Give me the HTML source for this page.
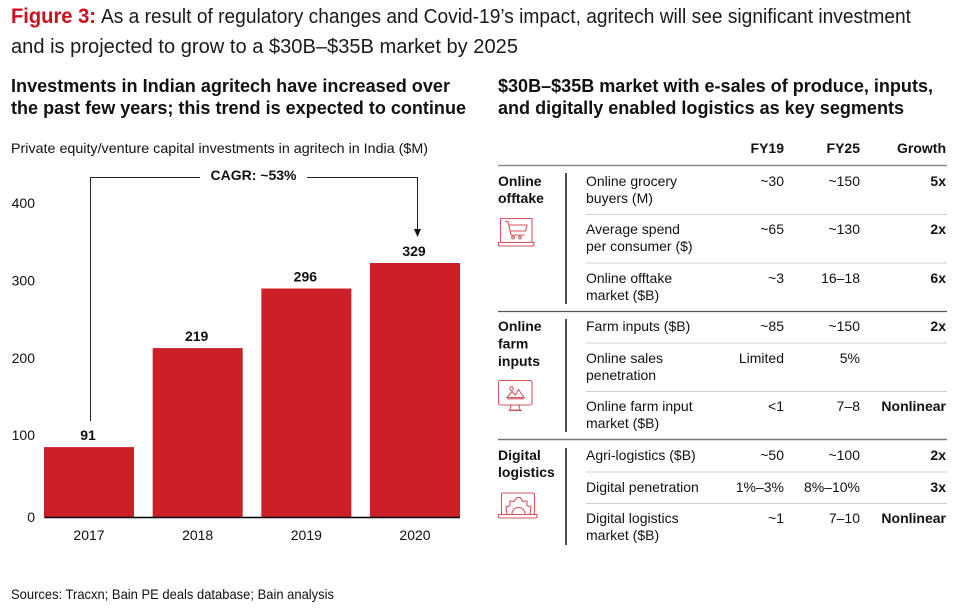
<!DOCTYPE html>
<html lang="en">
<head>
<meta charset="utf-8">
<title>Figure 3: Agritech investment in India</title>
<style>
html,body{margin:0;padding:0;background:#fff;width:964px;height:612px;overflow:hidden}
svg{display:block;font-family:"Liberation Sans",Arial,sans-serif;fill:#111}
.h{font-weight:700;font-size:18px}
.t{font-size:14px}
.b{font-size:14px;font-weight:700}
.r{text-anchor:end}
.m{text-anchor:middle}
.ic{fill:none;stroke:#d5545c;stroke-width:1.1}
</style>
</head>
<body>
<svg id="page" width="964" height="612" viewBox="0 0 964 612" xmlns="http://www.w3.org/2000/svg">
  <rect x="0" y="0" width="964" height="612" fill="#fff"/>

  <text x="11" y="23" font-size="21" font-weight="700" fill="#cc0f1c" textLength="85" lengthAdjust="spacingAndGlyphs">Figure 3:</text>
  <text x="101" y="23" font-size="20" fill="#1a1a1a" textLength="810" lengthAdjust="spacingAndGlyphs">As a result of regulatory changes and Covid-19’s impact, agritech will see significant investment</text>
  <text x="11" y="53" font-size="20" fill="#1a1a1a" textLength="507" lengthAdjust="spacingAndGlyphs">and is projected to grow to a $30B–$35B market by 2025</text>

  <text class="h" x="11" y="92" textLength="439" lengthAdjust="spacingAndGlyphs">Investments in Indian agritech have increased over</text>
  <text class="h" x="11" y="114" textLength="455" lengthAdjust="spacingAndGlyphs">the past few years; this trend is expected to continue</text>
  <text x="11" y="153" font-size="14" textLength="417" lengthAdjust="spacingAndGlyphs">Private equity/venture capital investments in agritech in India ($M)</text>

  <g id="chart"></g>

  <text x="11" y="599" font-size="14" textLength="323" lengthAdjust="spacingAndGlyphs">Sources: Tracxn; Bain PE deals database; Bain analysis</text>

  <text class="h" x="498" y="92" textLength="435" lengthAdjust="spacingAndGlyphs">$30B–$35B market with e-sales of produce, inputs,</text>
  <text class="h" x="498" y="114" textLength="406" lengthAdjust="spacingAndGlyphs">and digitally enabled logistics as key segments</text>

  <text class="b r" x="784" y="153">FY19</text>
  <text class="b r" x="860" y="153">FY25</text>
  <text class="b r" x="946" y="153">Growth</text>

  <line x1="498" x2="947" y1="165.5" y2="165.5" stroke="#8a8a8a" stroke-width="1.6"/>
  <line x1="498" x2="947" y1="311.5" y2="311.5" stroke="#555" stroke-width="1.2"/>
  <line x1="498" x2="947" y1="439.5" y2="439.5" stroke="#777" stroke-width="1.4"/>

  <line x1="566" x2="566" y1="173" y2="304" stroke="#222" stroke-width="1.6"/>
  <line x1="566" x2="566" y1="319" y2="432" stroke="#222" stroke-width="1.6"/>
  <line x1="566" x2="566" y1="448" y2="545" stroke="#222" stroke-width="1.6"/>

  <g stroke="#d0d0d0" stroke-width="1">
    <line x1="586" x2="947" y1="214.5" y2="214.5"/>
    <line x1="586" x2="947" y1="263" y2="263"/>
    <line x1="586" x2="947" y1="343" y2="343"/>
    <line x1="586" x2="947" y1="391.5" y2="391.5"/>
    <line x1="586" x2="947" y1="472" y2="472"/>
    <line x1="586" x2="947" y1="503.5" y2="503.5"/>
  </g>

  <text class="b" x="498" y="186">Online</text>
  <text class="b" x="498" y="203">offtake</text>
  <text class="b" x="498" y="331">Online</text>
  <text class="b" x="498" y="348.5">farm</text>
  <text class="b" x="498" y="366">inputs</text>
  <text class="b" x="498" y="460">Digital</text>
  <text class="b" x="498" y="477">logistics</text>

  <g class="ic">
    <path d="M500.5 242V218.500H532V242"/>
    <path d="M498.500 242.500H534V244.500Q534 246 532 246H500.500Q498.500 246 498.500 244.500Z"/>
    <path d="M505 221.500H508L511 235H524.500M509 225H527L525.500 231H510.500"/>
    <circle cx="513" cy="237.500" r="1.300"/>
    <circle cx="520" cy="237.500" r="1.300"/>
  </g>
  <g class="ic">
    <rect x="498.500" y="380.500" width="33.500" height="24.500" rx="2"/>
    <path d="M511 405L510 410H520L519 405M508.500 410.500H522"/>
    <circle cx="511.500" cy="388.500" r="1.800"/>
    <path d="M507 397.500L512 391.500L515.500 395L518.500 389.500L524 397.500ZM507 398.800H524"/>
  </g>
  <g class="ic">
    <path d="M501.500 514V494Q501.500 493 503 493H533Q534.500 493 534.500 494V514"/>
    <path d="M498.500 514.500H537V516.500Q537 518 535 518H500.500Q498.500 518 498.500 516.500Z"/>
    <path d="M507 514L506 507L510 505.500L510 501L514 501.500L517 497.500L520 497.500L523 501.500L527 501L527 505.500L531 507L530 514"/>
    <path d="M512 514A6.500 6.500 0 0 1 525 514"/>
  </g>

  <!-- Online offtake -->
  <text class="t" x="586" y="186">Online grocery</text>
  <text class="t" x="586" y="203">buyers (M)</text>
  <text class="t r" x="784" y="186">~30</text>
  <text class="t r" x="860" y="186">~150</text>
  <text class="b r" x="946" y="186">5x</text>

  <text class="t" x="586" y="234">Average spend</text>
  <text class="t" x="586" y="251">per consumer ($)</text>
  <text class="t r" x="784" y="234">~65</text>
  <text class="t r" x="860" y="234">~130</text>
  <text class="b r" x="946" y="234">2x</text>

  <text class="t" x="586" y="283">Online offtake</text>
  <text class="t" x="586" y="300">market ($B)</text>
  <text class="t r" x="784" y="283">~3</text>
  <text class="t r" x="860" y="283">16–18</text>
  <text class="b r" x="946" y="283">6x</text>

  <!-- Online farm inputs -->
  <text class="t" x="586" y="331">Farm inputs ($B)</text>
  <text class="t r" x="784" y="331">~85</text>
  <text class="t r" x="860" y="331">~150</text>
  <text class="b r" x="946" y="331">2x</text>

  <text class="t" x="586" y="363">Online sales</text>
  <text class="t" x="586" y="380">penetration</text>
  <text class="t r" x="784" y="363">Limited</text>
  <text class="t r" x="860" y="363">5%</text>

  <text class="t" x="586" y="411">Online farm input</text>
  <text class="t" x="586" y="428">market ($B)</text>
  <text class="t r" x="784" y="411">&lt;1</text>
  <text class="t r" x="860" y="411">7–8</text>
  <text class="b r" x="946" y="411">Nonlinear</text>

  <!-- Digital logistics -->
  <text class="t" x="586" y="460">Agri-logistics ($B)</text>
  <text class="t r" x="784" y="460">~50</text>
  <text class="t r" x="860" y="460">~100</text>
  <text class="b r" x="946" y="460">2x</text>

  <text class="t" x="586" y="492">Digital penetration</text>
  <text class="t r" x="784" y="492">1%–3%</text>
  <text class="t r" x="860" y="492">8%–10%</text>
  <text class="b r" x="946" y="492">3x</text>

  <text class="t" x="586" y="523">Digital logistics</text>
  <text class="t" x="586" y="540">market ($B)</text>
  <text class="t r" x="784" y="523">~1</text>
  <text class="t r" x="860" y="523">7–10</text>
  <text class="b r" x="946" y="523">Nonlinear</text>
</svg>

<script>
const categories = ['2017', '2018', '2019', '2020'];
const investments = [91, 219, 296, 329];
const tickValues = [0, 100, 200, 300, 400];
const cagrLabel = 'CAGR: ~53%';

const NS = 'http://www.w3.org/2000/svg';
const chart = document.getElementById('chart');

function yScale(v) {
  return 517.5 - v * 0.7736;
}
function xBand(i) {
  return 44 + i * 108.67;
}
const barWidth = 90;
function xCenter(i) {
  return xBand(i) + barWidth / 2;
}
function add(tag, attrs, text) {
  const el = document.createElementNS(NS, tag);
  for (const k in attrs) el.setAttribute(k, attrs[k]);
  if (text !== undefined) el.textContent = text;
  chart.appendChild(el);
  return el;
}

tickValues.forEach(function (t) {
  const el = add('text', { x: 35, y: yScale(t) + (t === 0 ? 4.5 : 0), 'text-anchor': 'end', 'font-size': 14 }, String(t));
  
  
});

categories.forEach(function (c, i) {
  const v = investments[i];
  const bar = add('rect', { x: xBand(i), y: yScale(v), width: barWidth, height: yScale(0) - yScale(v), fill: '#cc2029' });
  
  
  const val = add('text', { x: xCenter(i) - 1, y: yScale(v) - 7, 'text-anchor': 'middle', 'font-size': 14, 'font-weight': 700 }, String(v));
  
  
  const cat = add('text', { x: xCenter(i), y: 540, 'text-anchor': 'middle', 'font-size': 14 }, c);
  
  
});

const axis = add('line', { x1: 44.5, x2: 460, y1: yScale(0), y2: yScale(0), stroke: '#000', 'stroke-width': 1.6 });



const leftX = 90.5;
const rightX = 417.5;
const bracketY = 177.5;
const leftEnd = yScale(investments[0]) - 26;
const rightEnd = yScale(investments[3]) - 26;

const bracketLeft = add('path', { d: 'M' + leftX + ' ' + leftEnd + 'V' + bracketY + 'H200', fill: 'none', stroke: '#222', 'stroke-width': 1 });



const bracketRight = add('path', { d: 'M307 ' + bracketY + 'H' + rightX + 'V' + (rightEnd - 6), fill: 'none', stroke: '#222', 'stroke-width': 1 });



const arrow = add('path', { d: 'M' + (rightX - 3.5) + ' ' + (rightEnd - 8) + 'H' + (rightX + 3.5) + 'L' + rightX + ' ' + rightEnd + 'Z', fill: '#111' });



const cagr = add('text', { x: 253.5, y: 180, 'text-anchor': 'middle', 'font-size': 14, 'font-weight': 700 }, cagrLabel);


</script>
</body>
</html>
